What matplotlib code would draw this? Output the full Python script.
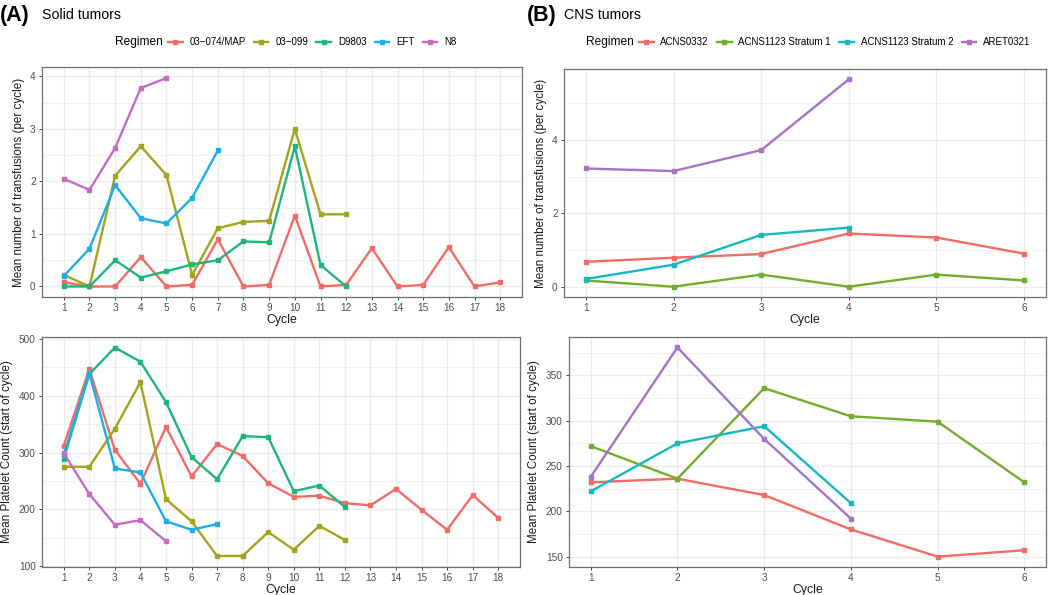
import matplotlib
matplotlib.use("Agg")
import matplotlib.pyplot as plt
from matplotlib.lines import Line2D
from matplotlib.ticker import MultipleLocator

plt.rcParams['font.family'] = ['Liberation Sans', 'DejaVu Sans']

# ---------------- data ----------------
solid_regimens = ["03\u2212074/MAP", "03\u2212099", "D9803", "EFT", "N8"]
solid_colors = ["#F26B64", "#A3A41C", "#1DB57A", "#1DAEEA", "#C66BC4"]

solid_cycles = {
    "03\u2212074/MAP": list(range(1, 19)),
    "03\u2212099": list(range(1, 13)),
    "D9803": list(range(1, 13)),
    "EFT": list(range(1, 8)),
    "N8": list(range(1, 6)),
}
solid_transf = {
    "03\u2212074/MAP": [0.08, 0, 0, 0.56, 0, 0.03, 0.90, 0, 0.03, 1.35, 0, 0.03, 0.73, 0, 0.03, 0.75, 0, 0.08],
    "03\u2212099": [0.22, 0, 2.11, 2.67, 2.12, 0.22, 1.11, 1.23, 1.25, 3.00, 1.375, 1.375],
    "D9803": [0, 0, 0.50, 0.17, 0.29, 0.42, 0.50, 0.86, 0.84, 2.67, 0.41, 0],
    "EFT": [0.20, 0.72, 1.93, 1.30, 1.20, 1.69, 2.59],
    "N8": [2.05, 1.84, 2.64, 3.78, 3.97],
}
solid_platelet = {
    "03\u2212074/MAP": [312, 447, 305, 245, 345, 258, 315, 294, 246, 222, 224, 211, 207, 236, 199, 164, 225, 185],
    "03\u2212099": [275, 275, 342, 424, 218, 179, 118, 118, 160, 129, 171, 146],
    "D9803": [289, 438, 485, 460, 389, 292, 253, 329, 327, 232, 242, 204],
    "EFT": [296, 440, 272, 265, 179, 164, 174],
    "N8": [299, 227, 173, 181, 144],
}

cns_regimens = ["ACNS0332", "ACNS1123 Stratum 1", "ACNS1123 Stratum 2", "ARET0321"]
cns_colors = ["#F26B64", "#74AC2C", "#14B9C0", "#A673C6"]
cns_cycles = {
    "ACNS0332": list(range(1, 7)),
    "ACNS1123 Stratum 1": list(range(1, 7)),
    "ACNS1123 Stratum 2": list(range(1, 5)),
    "ARET0321": list(range(1, 5)),
}
cns_transf = {
    "ACNS0332": [0.68, 0.79, 0.89, 1.45, 1.34, 0.90],
    "ACNS1123 Stratum 1": [0.17, 0, 0.33, 0, 0.33, 0.17],
    "ACNS1123 Stratum 2": [0.21, 0.60, 1.41, 1.61],
    "ARET0321": [3.22, 3.15, 3.72, 5.65],
}
cns_platelet = {
    "ACNS0332": [232, 236, 218, 180, 150, 157],
    "ACNS1123 Stratum 1": [272, 236, 336, 305, 299, 232],
    "ACNS1123 Stratum 2": [222, 275, 294, 209],
    "ARET0321": [238, 381, 280, 192],
}

# ---------------- figure ----------------
W, H = 1050, 595
fig = plt.figure(figsize=(W / 100, H / 100), dpi=100)

def ax_at(l, t, r, b):
    return fig.add_axes([l / W, 1 - b / H, (r - l) / W, (b - t) / H])

ax_tl = ax_at(42, 67, 522, 297)
ax_bl = ax_at(42, 337, 520, 567)
ax_tr = ax_at(564, 69, 1046, 297)
ax_br = ax_at(569, 337, 1046, 567)

grid_col = "#EBEBEB"
text_col = "#4D4D4D"

def style(ax, xmax, yticks, ylim, minor, ylabel):
    ax.set_xlim(1 - 0.05 * (xmax - 1), xmax + 0.05 * (xmax - 1))
    ax.set_ylim(*ylim)
    ax.set_xticks(range(1, xmax + 1))
    ax.set_yticks(yticks)
    ax.yaxis.set_minor_locator(MultipleLocator(minor))
    ax.grid(True, which="major", color=grid_col, linewidth=1.0, zorder=0)
    ax.grid(True, which="minor", axis="y", color=grid_col, linewidth=0.5, zorder=0)
    ax.set_axisbelow(True)
    for s in ax.spines.values():
        s.set_color("#6E6E6E")
        s.set_linewidth(0.9)
    ax.tick_params(which="major", length=2.5, width=0.7, color="#444444",
                   labelsize=7.2, labelcolor=text_col, pad=2)
    ax.tick_params(which="minor", length=0)
    ax.set_xlabel("Cycle", fontsize=8.8, labelpad=0.5, color="#1A1A1A")
    ax.set_ylabel(ylabel, fontsize=8.4, labelpad=4, color="#1A1A1A")

def draw(ax, regs, cols, cyc, vals):
    for r, c in zip(regs, cols):
        ax.plot(cyc[r], vals[r], color=c, linewidth=1.7, marker="s",
                markersize=3.3, zorder=3)

draw(ax_tl, solid_regimens, solid_colors, solid_cycles, solid_transf)
draw(ax_bl, solid_regimens, solid_colors, solid_cycles, solid_platelet)
draw(ax_tr, cns_regimens, cns_colors, cns_cycles, cns_transf)
draw(ax_br, cns_regimens, cns_colors, cns_cycles, cns_platelet)

yl_t = "Mean number of transfusions (per cycle)"
yl_b = "Mean Platelet Count (start of cycle)"
style(ax_tl, 18, [0, 1, 2, 3, 4], (-0.2, 4.18), 0.5, yl_t)
style(ax_bl, 18, [100, 200, 300, 400, 500], (98.5, 503.5), 50, yl_b)
style(ax_tr, 6, [0, 2, 4], (-0.28, 5.93), 1, yl_t)
style(ax_br, 6, [150, 200, 250, 300, 350], (138.5, 392.5), 25, yl_b)

# ---------------- titles ----------------
fig.text(0 / W, 1 - 15 / H, "(A)", fontsize=15.5, fontweight="bold", va="center", ha="left")
fig.text(42 / W, 1 - 15 / H, "Solid tumors", fontsize=10.2, va="center", ha="left")
fig.text(527 / W, 1 - 15 / H, "(B)", fontsize=15.5, fontweight="bold", va="center", ha="left")
fig.text(564 / W, 1 - 15 / H, "CNS tumors", fontsize=10.2, va="center", ha="left")

# ---------------- legends ----------------
def legend(x_title, x_leg, regs, cols):
    fig.text(x_title / W, 1 - 42 / H, "Regimen", fontsize=8.6, va="center", ha="left")
    handles = [Line2D([0], [0], color=c, linewidth=1.7, marker="s", markersize=3.3)
               for c in cols]
    fig.legend(handles, regs, loc="center left", bbox_to_anchor=(x_leg / W, 1 - 42 / H),
               ncol=len(regs), frameon=False, fontsize=7.0, handlelength=1.5,
               handletextpad=0.7, columnspacing=0.85, borderpad=0, borderaxespad=0)

legend(115, 168, solid_regimens, solid_colors)
legend(586, 639, cns_regimens, cns_colors)

fig.savefig("out.png", dpi=100)
